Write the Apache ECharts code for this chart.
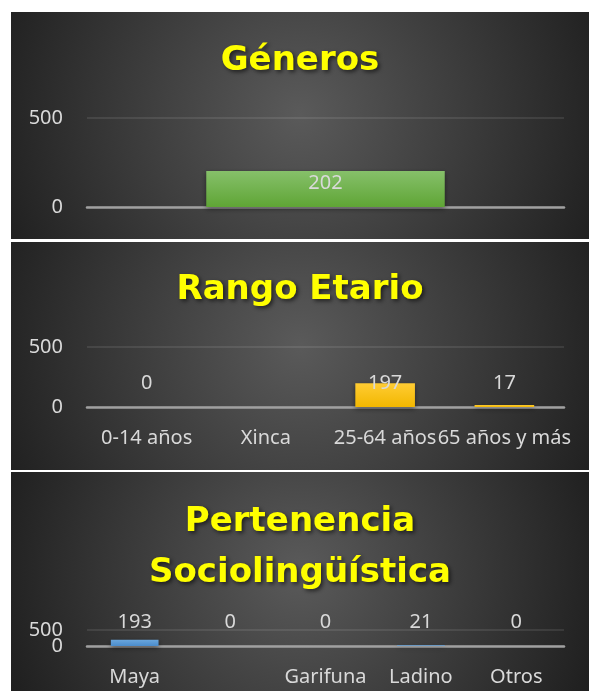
<!DOCTYPE html>
<html>
<head>
<meta charset="utf-8">
<script src="https://cdn.jsdelivr.net/npm/echarts@6/dist/echarts.min.js"></script>
<style>
html,body{margin:0;padding:0;background:#fff;}
#c{width:589px;height:691px;}
</style>
</head>
<body>
<div id="c"></div>
<script>
// ---- data ----
var generoCategories = ['Total'];
var generoValues = [202];
var edadCategories = ['0-14 años', 'Xinca', '25-64 años', '65 años y más'];
var edadValues = [0, '-', 197, 17];
var socioCategories = ['Maya', '', 'Garifuna', 'Ladino', 'Otros'];
var socioValues = [193, 0, 0, 21, 0];
var yTicks = [0, 500];
var titles = ['Géneros', 'Rango Etario', 'Pertenencia\nSociolingüística'];

var chart = echarts.init(document.getElementById('c'), null, {renderer: 'canvas'});

var FONT = 'Noto Sans';
var TITLE_FONT = 'DejaVu Sans';
var LABEL_COLOR = '#d9d9d9';

function panelBg(y, h) {
  return {
    type: 'rect', z: -10, silent: true,
    shape: {x: 11, y: y, width: 578, height: h},
    style: {
      fill: {
        type: 'radial', x: 0.5, y: 0.45, r: 1.45,
        colorStops: [{offset: 0, color: '#5a5a5a'}, {offset: 1, color: '#1e1e1e'}]
      }
    }
  };
}

var grids = [
  {left: 87, right: 25, top: 118, bottom: 691 - 207},
  {left: 87, right: 25, top: 347, bottom: 691 - 407},
  {left: 87, right: 25, top: 630, bottom: 691 - 646}
];

function xAxis(idx, cats, showLabel) {
  return {
    type: 'category', gridIndex: idx, data: cats,
    axisLine: {show: true, lineStyle: {color: '#a0a0a0', width: 2.5}},
    axisTick: {show: false},
    axisLabel: {show: showLabel, interval: 0, hideOverlap: false, color: LABEL_COLOR, fontSize: 20, fontFamily: FONT, margin: 21}
  };
}
// only: undefined -> all tick labels; otherwise only the tick equal to `only`
function yAxis(idx, only, showSplit) {
  return {
    type: 'value', gridIndex: idx, min: yTicks[0], max: yTicks[1], interval: yTicks[1] - yTicks[0],
    position: 'left',
    axisLine: {show: false}, axisTick: {show: false},
    axisLabel: {color: LABEL_COLOR, fontSize: 20, fontFamily: FONT, margin: 24,
      hideOverlap: false, showMinLabel: true, showMaxLabel: true,
      formatter: function (v) { return (only === undefined || v === only) ? String(v) : ''; }},
    splitLine: {show: showSplit, lineStyle: {color: 'rgba(255,255,255,0.12)', width: 1.5}}
  };
}
function grad(top, bottom) {
  return {type: 'linear', x: 0, y: 0, x2: 0, y2: 1,
    colorStops: [{offset: 0, color: top}, {offset: 1, color: bottom}]};
}
function barSeries(idx, values, top, bottom) {
  return {
    type: 'bar', xAxisIndex: idx, yAxisIndex: idx, data: values, barWidth: '50%',
    itemStyle: {color: grad(top, bottom), shadowColor: 'rgba(0,0,0,0.45)', shadowBlur: 5, shadowOffsetY: 2},
    label: {show: true, position: 'insideBottom', distance: 14, color: LABEL_COLOR,
      fontSize: 20, fontFamily: FONT},
    silent: true
  };
}

var titleStyle = {
  color: '#ffff00', fontWeight: 'bold', fontSize: 34, fontFamily: TITLE_FONT,
  textShadowColor: 'rgba(0,0,0,0.6)', textShadowBlur: 4, textShadowOffsetX: 2, textShadowOffsetY: 2
};

var option = {
  backgroundColor: '#ffffff',
  animation: false,
  graphic: [panelBg(12, 227), panelBg(242, 228), panelBg(472, 219)],
  title: [
    {text: titles[0], left: 300, textAlign: 'center', top: 44, padding: 0, textStyle: titleStyle},
    {text: titles[1], left: 300, textAlign: 'center', top: 273, padding: 0, textStyle: titleStyle},
    {text: titles[2], left: 300, textAlign: 'center', top: 496, padding: 0,
      textStyle: Object.assign({}, titleStyle, {lineHeight: 51.5})}
  ],
  grid: grids,
  xAxis: [xAxis(0, generoCategories, false), xAxis(1, edadCategories, true), xAxis(2, socioCategories, true)],
  yAxis: [yAxis(0, undefined, true), yAxis(1, undefined, true), yAxis(2, yTicks[0], true), yAxis(2, yTicks[1], false)],
  series: [
    barSeries(0, generoValues, '#86c06a', '#5fa535'),
    barSeries(1, edadValues, '#ffcc33', '#f2b700'),
    barSeries(2, socioValues, '#6aa6dc', '#4a8ccc')
  ]
};
chart.setOption(option);
</script>
</body>
</html>
